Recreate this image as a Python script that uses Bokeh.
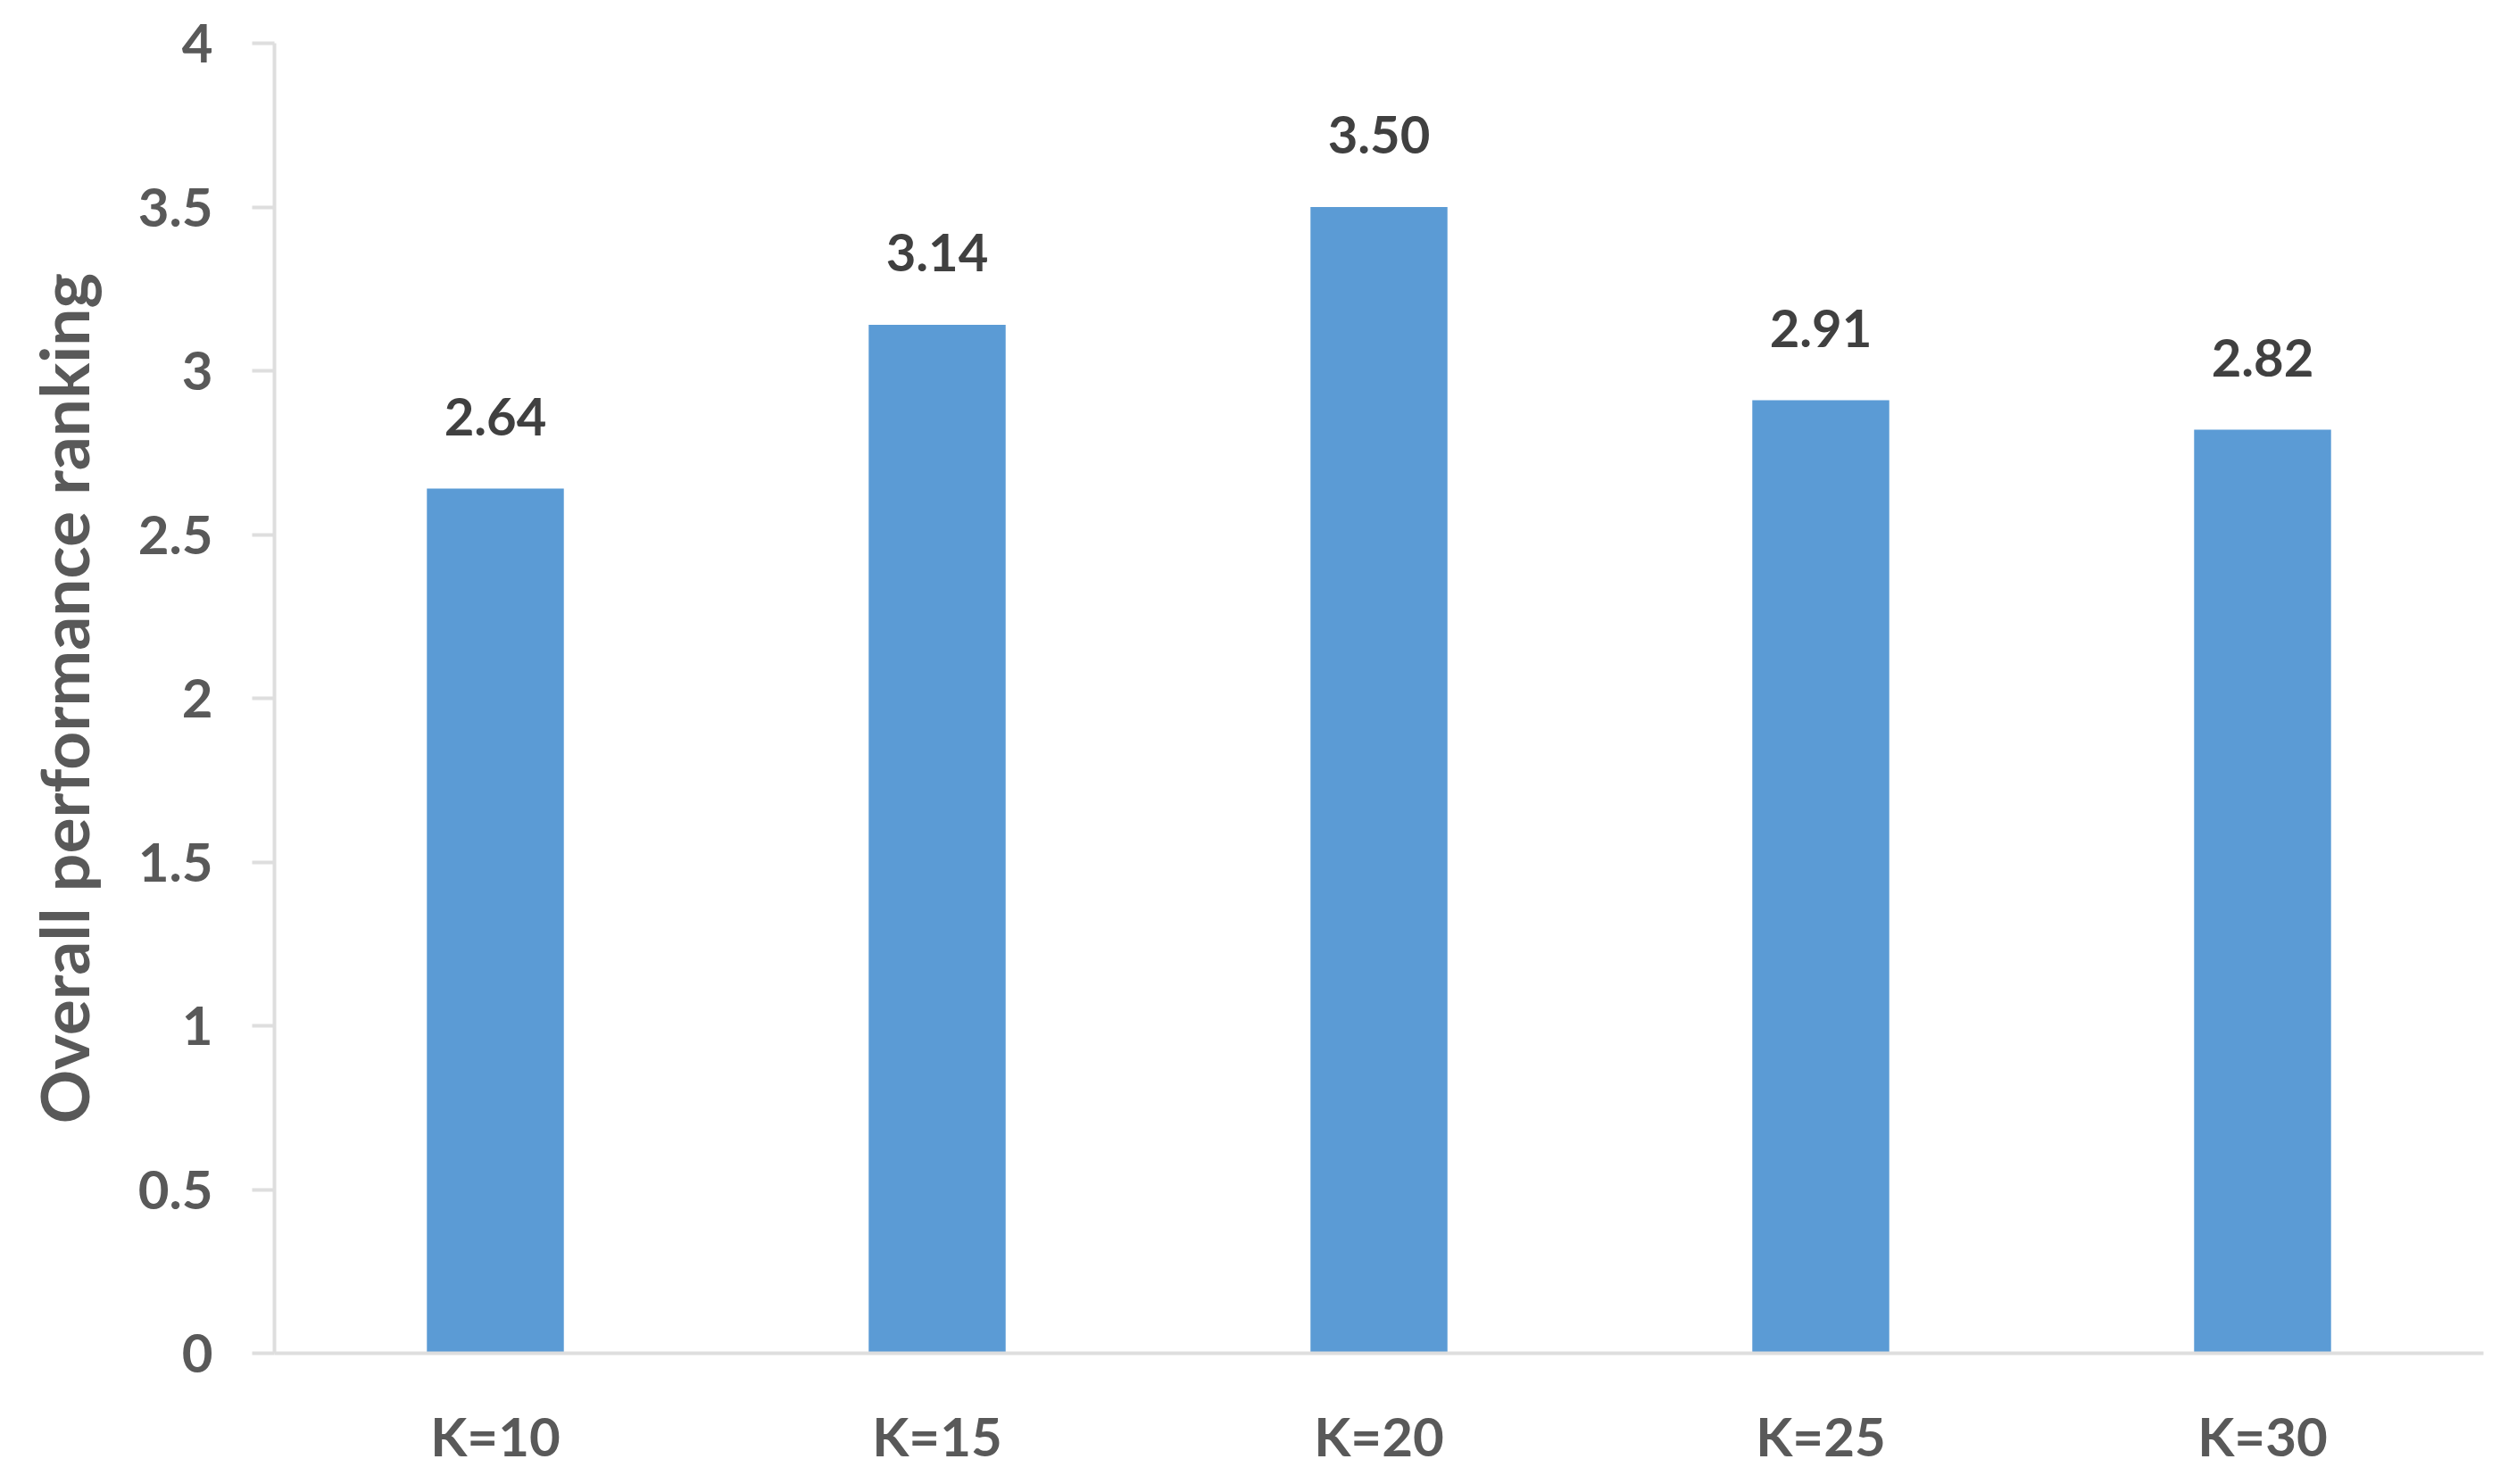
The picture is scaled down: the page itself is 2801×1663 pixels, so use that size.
from bokeh.plotting import figure
from bokeh.models import ColumnDataSource, LabelSet, Range1d, FixedTicker
from bokeh.core.properties import value
from bokeh.embed import file_html
from bokeh.resources import INLINE

categories = ["K=10", "K=15", "K=20", "K=25", "K=30"]
values = [2.64, 3.14, 3.50, 2.91, 2.82]
value_labels = ["2.64", "3.14", "3.50", "2.91", "2.82"]
y_ticks = [0, 0.5, 1, 1.5, 2, 2.5, 3, 3.5, 4]

src = ColumnDataSource(dict(cat=categories, val=values, lab=value_labels))

FONT = "Lato"
p = figure(x_range=categories, y_range=Range1d(0, 4), width=2785, height=1647,
           output_backend="svg", toolbar_location=None,
           min_border_left=307, min_border_right=3, min_border_top=48, min_border_bottom=129)
p.outline_line_color = None
p.background_fill_color = "white"
p.border_fill_color = "white"
p.grid.grid_line_color = None
p.x_range.range_padding = 0

p.vbar(x="cat", top="val", width=0.31, source=src, fill_color="#5B9BD5", line_color=None)

labels = LabelSet(x="cat", y="val", text="lab", source=src, text_align="center",
                  text_baseline="alphabetic", y_offset=60, text_font=value(FONT),
                  text_font_style="bold", text_font_size="58px", text_color="#404040")
p.add_layout(labels)

ya = p.yaxis[0]
ya.ticker = FixedTicker(ticks=y_ticks)
ya.axis_line_color = "#DEDEDE"
ya.axis_line_width = 4
ya.major_tick_line_color = "#DEDEDE"
ya.major_tick_line_width = 4
ya.major_tick_out = 25
ya.major_tick_in = 0
ya.minor_tick_line_color = None
ya.major_label_standoff = 44
ya.major_label_text_font = FONT
ya.major_label_text_font_style = "bold"
ya.major_label_text_font_size = "60px"
ya.major_label_text_color = "#595959"
ya.axis_label = "Overall performance ranking"
ya.axis_label_text_font = FONT
ya.axis_label_text_font_style = "bold"
ya.axis_label_text_font_size = "75px"
ya.axis_label_text_color = "#595959"
ya.axis_label_standoff = 36

xa = p.xaxis[0]
xa.axis_line_color = "#DEDEDE"
xa.axis_line_width = 4
xa.major_tick_line_color = None
xa.major_tick_out = 0
xa.major_tick_in = 0
xa.minor_tick_line_color = None
xa.major_label_standoff = 56
xa.major_label_text_font = FONT
xa.major_label_text_font_style = "bold"
xa.major_label_text_font_size = "60px"
xa.major_label_text_color = "#595959"

open("out.html", "w").write(file_html(p, INLINE))
